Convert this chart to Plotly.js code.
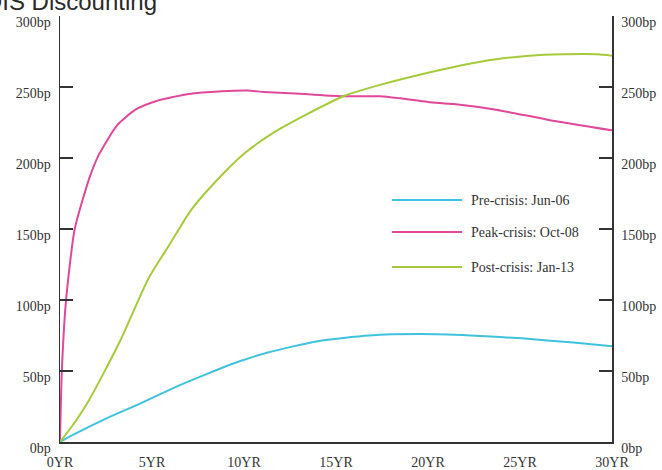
<!DOCTYPE html>
<html>
<head>
<meta charset="utf-8">
<script src="https://cdn.plot.ly/plotly-3.0.1.min.js"></script>
<style>html,body{margin:0;padding:0;background:#fff;}#chart{width:662px;height:470px;}</style>
</head>
<body>
<div id="chart"></div>
<script>
// ---- data ----
const titleText = "OIS Discounting";
const seriesNames = ["Pre-crisis: Jun-06", "Peak-crisis: Oct-08", "Post-crisis: Jan-13"];
const preYears  = [0, 0.7, 2.5, 4.35, 6.15, 8, 9.8, 11.3, 14, 16.8, 19.6, 22.3, 25.1, 27.9, 30];
const preBp     = [0, 5, 16.5, 27, 38, 48, 57, 63, 71, 75, 76, 75, 73, 70, 67.5];
const peakYears = [0, 0.1, 0.33, 0.8, 1.6, 2.1, 3.1, 4.1, 5.2, 7, 8.8, 10.2, 11.1, 13.3, 15.5, 17.4, 18.5, 20, 21.4, 23.7, 26.5, 30];
const peakBp    = [0, 50, 100, 150, 186, 202, 223, 234, 240, 245, 247, 247.5, 246.5, 245, 243.5, 243.5, 242, 239.5, 238, 234, 227, 219.5];
const postYears = [0, 0.7, 1.6, 3.3, 4.8, 6, 7.1, 8.5, 10, 11.5, 13.3, 15.5, 17.4, 20, 21.9, 23.7, 25.5, 27.3, 29.2, 30];
const postBp    = [0, 12, 30, 72, 115, 140, 163, 184, 203, 217, 230, 244, 251.5, 260, 265.5, 269.5, 272, 273, 273, 272];
const xTickVals = [0, 5, 10, 15, 20, 25, 30];
const xTickText = ["0YR", "5YR", "10YR", "15YR", "20YR", "25YR", "30YR"];
const yTickVals = [0, 50, 100, 150, 200, 250, 300];
const yTickText = ["0bp", "50bp", "100bp", "150bp", "200bp", "250bp", "300bp"];

// ---- style ----
const colors = ["#3fc2dd", "#e0489a", "#a6cb3a"];
const serif = "Liberation Serif, Times New Roman, serif";
const txt = "#333333";

const traces = [
  {x: preYears, y: preBp, name: seriesNames[0]},
  {x: peakYears, y: peakBp, name: seriesNames[1]},
  {x: postYears, y: postBp, name: seriesNames[2]}
].map((t, i) => Object.assign(t, {
  type: "scatter", mode: "lines", line: {color: colors[i], width: 2, shape: "spline", smoothing: 0.6},
  showlegend: false, hoverinfo: "skip"
}));

// custom legend rows (paper coords)
const legendY = [200, 232, 267];
const H = 470, T = 16, B = 28, L = 60, R = 50, W = 662;
const ph = H - T - B, pw = W - L - R;
const px2paperX = px => (px - L) / pw;
const px2paperY = py => (H - B - py) / ph;
const shapes = [], annotations = [];
seriesNames.forEach((n, i) => {
  shapes.push({type: "line", xref: "paper", yref: "paper",
    x0: px2paperX(392), x1: px2paperX(462), y0: px2paperY(legendY[i]), y1: px2paperY(legendY[i]),
    line: {color: colors[i], width: 2}});
  annotations.push({xref: "paper", yref: "paper", x: px2paperX(469), y: px2paperY(legendY[i]),
    xanchor: "left", yanchor: "middle", showarrow: false, text: n,
    font: {family: serif, size: 14, color: txt}});
});

const yAxisCommon = {
  range: [0, 300], tickvals: yTickVals, ticktext: yTickText,
  ticks: "inside", ticklen: 13, tickwidth: 1.5, tickcolor: txt,
  showline: true, linecolor: txt, linewidth: 1.5, showgrid: false, zeroline: false,
  tickfont: {family: serif, size: 14, color: txt}, fixedrange: true, ticklabelshift: 6
};

const layout = {
  width: W, height: H,
  margin: {l: L, r: R, t: T, b: B, pad: 0},
  paper_bgcolor: "#ffffff", plot_bgcolor: "#ffffff",
  title: {text: titleText, xref: "container", yref: "container",
    x: 157 / W, xanchor: "right", y: 1 - 10 / H, yanchor: "bottom",
    font: {family: "Liberation Sans, Arial, sans-serif", size: 24, color: "#2a2a2a"}},
  xaxis: {range: [0, 30], tickvals: xTickVals, ticktext: xTickText, ticks: "",
    showline: true, linecolor: txt, linewidth: 1.5, showgrid: false, zeroline: false,
    tickfont: {family: serif, size: 14, color: txt}, fixedrange: true, ticklabelstandoff: 7},
  yaxis: Object.assign({}, yAxisCommon, {side: "left", ticklabelstandoff: 5}),
  yaxis2: Object.assign({}, yAxisCommon, {side: "right", overlaying: "y", ticklabelstandoff: 5}),
  shapes: shapes, annotations: annotations, showlegend: false
};

// dummy invisible trace to show the right axis
traces.push({x: [0], y: [0], yaxis: "y2", type: "scatter", mode: "markers",
  marker: {opacity: 0}, showlegend: false, hoverinfo: "skip"});

Plotly.newPlot("chart", traces, layout, {displayModeBar: false, staticPlot: true});
</script>
</body>
</html>
